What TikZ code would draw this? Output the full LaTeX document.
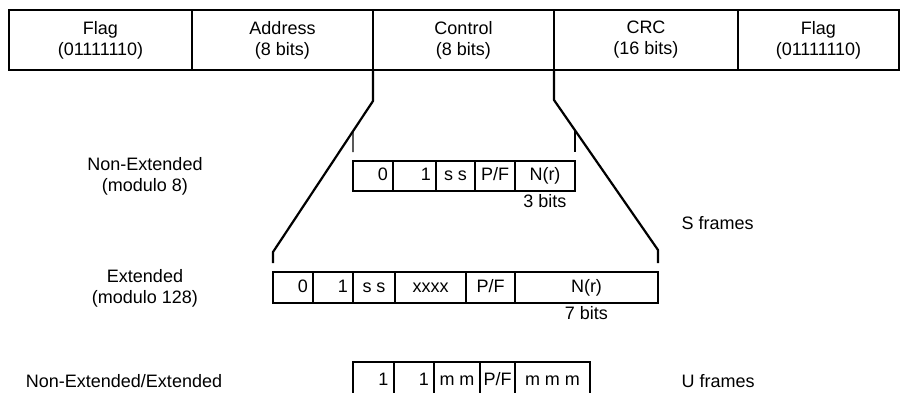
\documentclass[tikz,border=0pt]{standalone}
\usepackage{fontspec}
\setmainfont{Liberation Sans}
\usetikzlibrary{positioning}
\tikzset{
  fld/.style  ={rectangle, draw, line width=1.6pt, outer sep=0pt, align=center, minimum height=60pt, font=\fontsize{18}{21}\selectfont},
  cell/.style ={rectangle, draw, line width=1.3pt, outer sep=0pt, inner xsep=6pt, minimum height=30pt, text height=13pt, text depth=3.5pt, font=\fontsize{18}{21}\selectfont},
  cellr/.style={cell, align=right, text width=#1},
  lbl/.style  ={align=center, font=\fontsize{18}{21}\selectfont},
  ldr/.style  ={line width=2.2pt, line join=miter},
  tk/.style   ={line width=1.4pt},
}
\begin{document}
\begin{tikzpicture}[x=1pt, y=-1pt]
  \useasboundingbox (0,0) rectangle (906,392);
  \clip (0,0) rectangle (906,392);
  % frame fields
  \node[fld, minimum width=183pt, anchor=north west] (flag1) at (9,10) {Flag\\(01111110)};
  \node[fld, minimum width=181pt, right=0pt of flag1] (addr) {Address\\(8 bits)};
  \node[fld, minimum width=181pt, right=0pt of addr] (ctrl) {Control\\(8 bits)};
  \node[fld, minimum width=184pt, right=0pt of ctrl] (crc) {CRC\\(16 bits)};
  \node[fld, minimum width=161pt, right=0pt of crc] (flag2) {Flag\\(01111110)};
  % S frame, modulo 8
  \node[cellr=30pt, minimum width=40pt, inner xsep=5pt, anchor=west] (s0) at (353,176) {0};
  \node[cellr=33pt, minimum width=43pt, inner xsep=5pt, right=0pt of s0] (s1) {1};
  \node[cell, minimum width=39pt, inner xsep=2pt, right=0pt of s1] (sss) {s s};
  \node[cell, minimum width=40pt, inner xsep=1pt, right=0pt of sss] (spf) {P/F};
  \node[cell, minimum width=60pt, right=0pt of spf] (snr) {N(r)};
  \node[lbl, below=0pt of snr] (s3) {3 bits};
  % S frame, modulo 128
  \node[cellr=30pt, minimum width=40pt, minimum height=31pt, inner xsep=5pt, anchor=west] (e0) at (273,287.5) {0};
  \node[cellr=30pt, minimum width=40pt, minimum height=31pt, inner xsep=5pt, right=0pt of e0] (e1) {1};
  \node[cell, minimum width=42pt, minimum height=31pt, inner xsep=2pt, right=0pt of e1] (ess) {s s};
  \node[cell, minimum width=71pt, minimum height=31pt, right=0pt of ess] (ex) {xxxx};
  \node[cell, minimum width=49pt, minimum height=31pt, right=0pt of ex] (epf) {P/F};
  \node[cell, minimum width=143pt, minimum height=31pt, right=0pt of epf] (enr) {N(r)};
  \node[lbl, below=0pt of enr] (e7) {7 bits};
  % U frame
  \node[cellr=30pt, minimum width=41pt, minimum height=38pt, inner xsep=5pt, anchor=west] (u0) at (353,381) {1};
  \node[cellr=30pt, minimum width=40pt, minimum height=38pt, inner xsep=5pt, right=0pt of u0] (u1) {1};
  \node[cell, minimum width=46pt, minimum height=38pt, inner xsep=1pt, right=0pt of u1] (umm) {m m};
  \node[cell, minimum width=35pt, minimum height=38pt, inner xsep=0pt, right=0pt of umm] (upf) {P/F};
  \node[cell, minimum width=75pt, minimum height=38pt, right=0pt of upf] (ummm) {m m m};
  % leaders from the control field
  \coordinate (lknee) at (373,101);
  \coordinate (lfoot) at (273,252);
  \coordinate (rknee) at (554,100);
  \coordinate (rfoot) at (658,250);
  \draw[ldr] (ctrl.south west) -- (lknee) -- (lfoot) -- ([yshift=9pt]e0.north west);
  \draw[ldr] (ctrl.south east) -- (rknee) -- (rfoot) -- ([yshift=9pt]enr.north east);
  \draw[tk] (intersection of lknee--lfoot and s0.north west--s0.south west) -- ([yshift=9pt]s0.north west);
  \draw[tk] (intersection of rknee--rfoot and snr.north east--snr.south east) -- ([yshift=9pt]snr.north east);
  % labels
  \node[lbl] (nonext) at (145,176) {Non-Extended\\(modulo 8)};
  \node[lbl] (ext) at (145,288) {Extended\\(modulo 128)};
  \node[lbl] (both) at (124,381) {Non-Extended/Extended};
  \node[lbl, anchor=west] (sfr) at (678,223) {S frames};
  \node[lbl, anchor=west] (ufr) at (678,381) {U frames};
\end{tikzpicture}
\end{document}
